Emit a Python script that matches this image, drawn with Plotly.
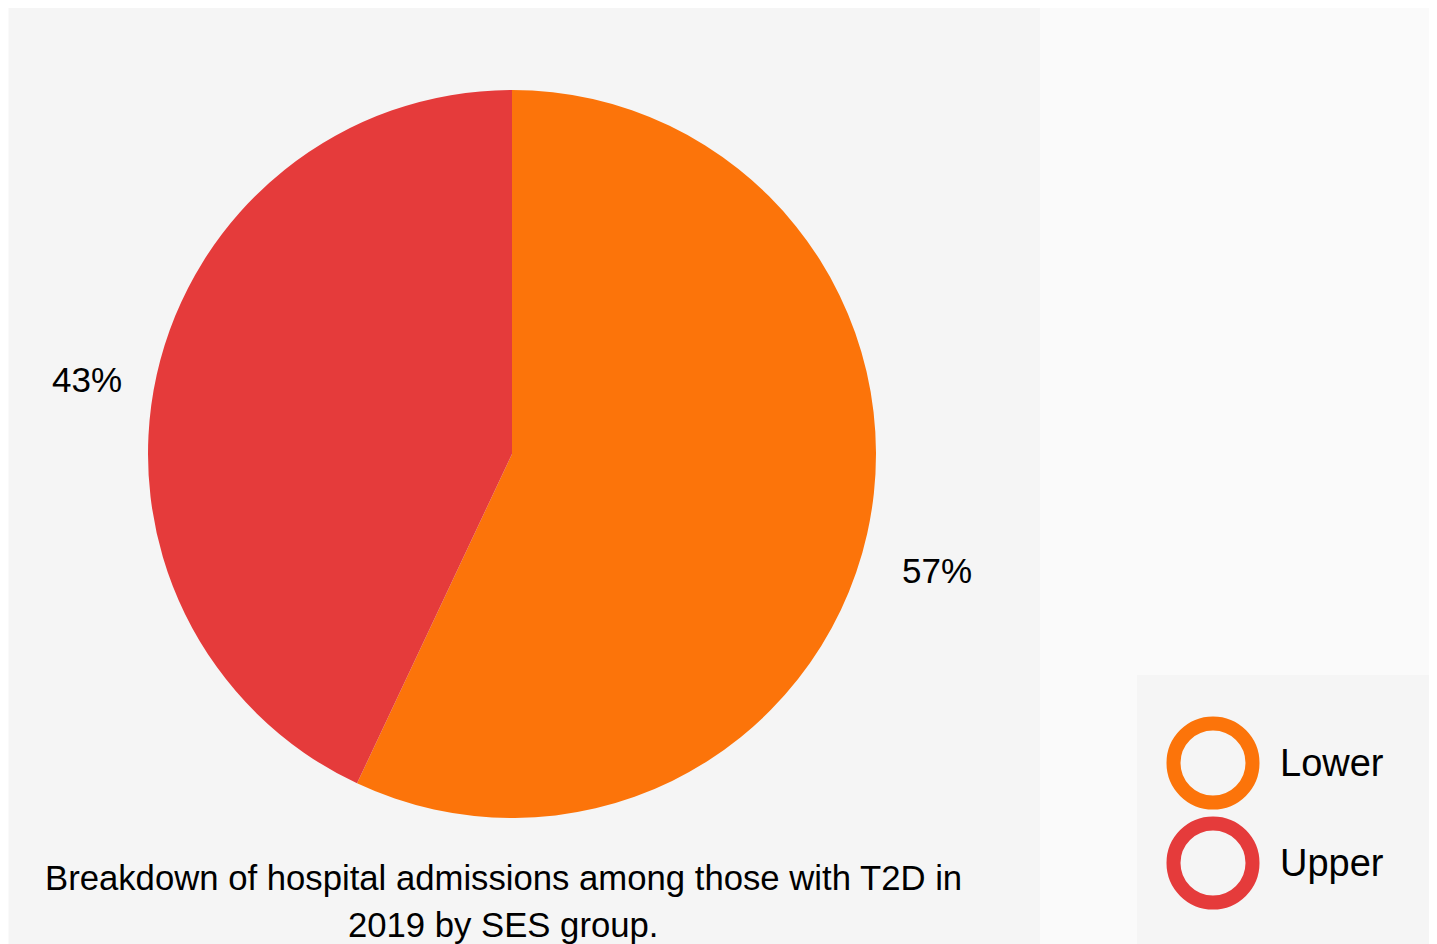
import math
import plotly.graph_objects as go

# Data
groups = ["Lower", "Upper"]
shares = [57, 43]
colors = ["#FC740A", "#E53B3B"]
title_lines = ["Breakdown of hospital admissions among those with T2D in",
               "2019 by SES group."]

W, H = 1437, 944
OFF = 8  # page body margin offset of the rendered figure
FONT = "Liberation Sans, Arial, sans-serif"

def px_x(v):  # screen px from left -> paper
    return (v - OFF) / W

def px_y(v):  # screen px from top -> paper
    return 1 - (v - OFF) / H

cx, cy, r = 512, 454, 364

fig = go.Figure()

fig.add_trace(go.Pie(
    labels=groups,
    values=shares,
    marker=dict(colors=colors, line=dict(width=0)),
    sort=False,
    direction="clockwise",
    rotation=0,
    textposition="none",
    showlegend=False,
    hoverinfo="label+percent",
    domain=dict(x=[px_x(cx - r), px_x(cx + r)], y=[px_y(cy + r), px_y(cy - r)]),
))

# Percentage labels placed at each slice's mid angle (computed from the data)
annotations = []
total = sum(shares)
cum = 0
label_r = 436
for g, v in zip(groups, shares):
    mid = (cum + v / 2) / total * 2 * math.pi
    cum += v
    lx = cx + label_r * math.sin(mid)
    ly = cy - label_r * math.cos(mid) + 21
    annotations.append(dict(
        text=f"{round(v / total * 100)}%", xref="paper", yref="paper",
        x=px_x(lx), y=px_y(ly), xanchor="center", yanchor="middle",
        showarrow=False, font=dict(family=FONT, size=35, color="#000000")))

# Title (two lines)
for i, line in enumerate(title_lines):
    annotations.append(dict(
        text=line, xref="paper", yref="paper",
        x=px_x(503), y=px_y(878 + 47 * i), xanchor="center", yanchor="middle",
        showarrow=False, font=dict(family=FONT, size=34.7, color="#000000")))

# Custom legend drawn as a small scatter panel
fig.add_trace(go.Scatter(
    x=[76] * len(groups),
    y=[181, 81],
    mode="markers",
    marker=dict(symbol="circle-open", size=79, color=colors,
                line=dict(width=14, color=colors)),
    xaxis="x", yaxis="y",
    showlegend=False, hoverinfo="skip",
))
fig.add_trace(go.Scatter(
    x=[143] * len(groups),
    y=[178, 78],
    mode="text",
    text=groups,
    textposition="middle right",
    textfont=dict(family=FONT, size=38, color="#000000"),
    xaxis="x", yaxis="y",
    showlegend=False, hoverinfo="skip",
))

fig.update_layout(
    width=W, height=H,
    margin=dict(l=0, r=0, t=0, b=0),
    paper_bgcolor="#fafafa",
    plot_bgcolor="rgba(0,0,0,0)",
    xaxis=dict(domain=[px_x(1137), px_x(1437)], range=[0, 300], visible=False, fixedrange=True),
    yaxis=dict(domain=[px_y(944), px_y(675)], range=[0, 269], visible=False, fixedrange=True),
    shapes=[
        dict(type="rect", xref="paper", yref="paper", layer="below",
             x0=px_x(9), x1=px_x(1040), y0=0, y1=1,
             fillcolor="#f5f5f5", line=dict(width=0)),
        dict(type="rect", xref="paper", yref="paper", layer="below",
             x0=px_x(1137), x1=1, y0=0, y1=px_y(675),
             fillcolor="#f5f5f5", line=dict(width=0)),
    ],
    annotations=annotations,
)

fig.write_html("out.html")
